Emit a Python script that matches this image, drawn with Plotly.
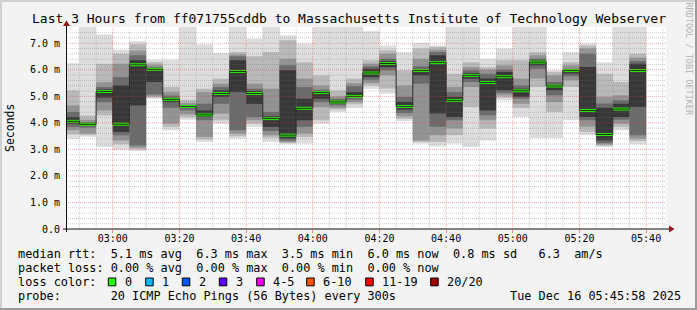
import pandas as pd
import plotly.graph_objects as go

# ---------------- canvas geometry ----------------
W, H = 697, 310
L, R, T, B = 66, 31, 27, 81          # plot area: x 66..666, y 27..229
PW, PH = W - L - R, H - T - B


def px(x):
    return (x - L) / PW


def py(y):
    return (T + PH - y) / PH


# ---------------- data (ms) ----------------
# 5-minute intervals, labelled by their end time
bar_end = pd.date_range("2025-12-16 02:50:00", "2025-12-16 05:40:00", freq="5min")

rtt_max = [6.25, 7.9, 7.33, 6.76, 7.08, 6.38, 6.38, 7.9, 6.96, 6.63,
           7.9, 7.17, 7.9, 7.30, 6.99, 7.9, 7.9, 7.9, 7.45, 6.92,
           6.67, 7.01, 6.92, 7.9, 7.9, 6.42, 6.80, 7.9, 7.9, 5.98,
           6.67, 6.99, 6.29, 7.9, 7.9]
band2_hi = [5.22, 4.28, 6.23, 6.61, 6.96, 6.29, 5.35, 4.87, 5.29, 5.67,
            6.67, 6.51, 6.67, 7.11, 6.29, 5.79, 5.22, 5.67, 6.36, 6.74,
            5.98, 6.80, 6.86, 5.85, 6.29, 6.10, 6.36, 6.36, 6.67, 5.92,
            6.29, 6.92, 5.85, 5.54, 6.61]
band3_hi = [4.66, 4.12, 5.54, 6.23, 6.73, 6.19, 5.16, 4.75, 5.16, 5.48,
            6.58, 5.48, 5.29, 6.42, 5.67, 5.41, 5.00, 5.50, 6.23, 6.61,
            5.41, 6.42, 6.76, 5.35, 6.10, 6.01, 6.17, 5.67, 6.55, 5.79,
            6.17, 6.80, 4.98, 5.04, 6.46]
band4_hi = [4.41, 4.03, 5.35, 5.73, 6.55, 6.10, 5.03, 4.68, 4.72, 5.35,
            6.51, 5.29, 4.41, 6.17, 5.35, 5.25, 4.91, 5.38, 6.13, 6.42,
            4.98, 6.13, 6.67, 5.16, 5.98, 5.85, 6.01, 5.41, 6.42, 5.54,
            6.04, 6.61, 4.73, 4.85, 6.33]
band5_hi = [4.22, 3.99, 5.26, 5.41, 6.36, 6.05, 4.94, 4.66, 4.47, 5.23,
            6.36, 5.20, 4.25, 5.98, 4.91, 5.19, 4.85, 5.16, 6.04, 6.33,
            4.79, 6.01, 6.55, 4.98, 5.88, 5.67, 5.92, 5.29, 6.36, 5.45,
            6.01, 6.11, 4.57, 4.72, 6.23]
median_rtt = [4.06, 3.95, 5.18, 3.95, 6.19, 6.02, 4.89, 4.62, 4.30, 5.11,
              5.94, 5.11, 4.16, 3.54, 4.55, 5.14, 4.79, 5.00, 5.88, 6.24,
              4.62, 5.97, 6.27, 4.85, 5.79, 5.52, 5.74, 5.21, 6.29, 5.39,
              5.97, 4.47, 3.56, 4.52, 5.97]
band5_lo = [3.97, 3.90, 4.95, 3.66, 4.66, 5.54, 4.78, 4.57, 4.22, 4.98,
            5.16, 4.72, 3.85, 3.41, 4.10, 4.91, 4.72, 4.95, 5.73, 6.10,
            4.50, 5.79, 4.35, 4.22, 5.67, 4.47, 5.23, 4.98, 6.17, 5.23,
            5.86, 4.22, 3.34, 4.22, 4.60]
band4_lo = [3.85, 3.82, 4.78, 3.53, 3.15, 5.07, 4.57, 4.47, 4.10, 4.72,
            3.72, 4.22, 3.69, 3.34, 3.85, 4.78, 4.66, 4.87, 5.63, 5.98,
            4.37, 5.48, 3.85, 4.10, 5.54, 4.28, 5.13, 4.91, 6.04, 5.04,
            5.76, 4.10, 3.24, 4.12, 3.53]
band3_lo = [3.72, 3.60, 4.47, 3.34, 3.06, 5.00, 3.97, 4.32, 3.47, 4.35,
            3.60, 4.10, 3.53, 3.28, 3.60, 4.60, 4.57, 4.78, 5.50, 5.79,
            4.25, 3.34, 3.53, 3.79, 5.35, 4.10, 5.04, 4.72, 5.67, 4.79,
            5.61, 3.85, 3.19, 3.97, 3.41]
band2_lo = [3.57, 3.54, 4.28, 3.19, 3.01, 4.95, 3.85, 4.22, 3.37, 4.10,
            3.50, 3.97, 3.44, 3.24, 3.47, 4.10, 4.50, 4.70, 5.41, 5.29,
            4.16, 3.28, 3.28, 3.53, 4.60, 3.79, 4.95, 4.57, 5.35, 4.41,
            5.35, 3.66, 3.14, 3.85, 3.32]
rtt_min = [3.40, 3.48, 3.09, 2.99, 2.94, 4.91, 3.72, 4.12, 3.28, 3.97,
           3.41, 3.84, 3.28, 3.19, 3.22, 3.97, 4.41, 4.57, 5.29, 5.10,
           4.07, 3.22, 3.11, 3.22, 3.09, 3.34, 4.85, 4.22, 3.43, 3.43,
           4.10, 3.53, 3.09, 3.72, 3.19]

y_tick_vals = [0, 1, 2, 3, 4, 5, 6, 7]
y_tick_text = ["0.0", "1.0 m", "2.0 m", "3.0 m", "4.0 m", "5.0 m", "6.0 m", "7.0 m"]

title_text = "Last 3 Hours from ff071755cddb to Massachusetts Institute of Technology Webserver"
stat_lines = [
    "median rtt:  5.1 ms avg  6.3 ms max  3.5 ms min  6.0 ms now  0.8 ms sd   6.3  am/s",
    "packet loss: 0.00 % avg  0.00 % max  0.00 % min  0.00 % now",
    "loss color:",
    "probe:       20 ICMP Echo Pings (56 Bytes) every 300s",
]
loss_labels = ["0", "1", "2", "3", "4-5", "6-10", "11-19", "20/20"]
loss_colors = ["#26ff00", "#00b8ff", "#0059ff", "#5e00ff", "#ff00ff", "#ff5500", "#ff0000", "#a00000"]
stamp_text = "Tue Dec 16 05:45:58 2025"

# ---------------- figure ----------------
step = pd.Timedelta(minutes=5)
centers = bar_end - step / 2
t_start = pd.Timestamp("2025-12-16 02:45:58")
t_end = pd.Timestamp("2025-12-16 05:45:58")
BAR_W = step.total_seconds() * 1000

fig = go.Figure()

bands = [
    (rtt_min, rtt_max, "#dddddd"),
    (band2_lo, band2_hi, "#b9b9b9"),
    (band3_lo, band3_hi, "#939393"),
    (band4_lo, band4_hi, "#6b6b6b"),
    (band5_lo, band5_hi, "#383838"),
]
for lo, hi, col in bands:
    fig.add_trace(go.Bar(
        x=centers, base=lo, y=[h - l for l, h in zip(lo, hi)], width=BAR_W,
        marker=dict(color=col, line=dict(width=0)), hoverinfo="skip", showlegend=False))

# median step line
line_x = list(bar_end - step) + [bar_end[-1]]
line_y = median_rtt + [median_rtt[-1]]
fig.add_trace(go.Scatter(x=line_x, y=line_y, mode="lines",
                         line=dict(color="#202020", width=1, shape="hv"),
                         hoverinfo="skip", showlegend=False))

# median loss-coloured band (0 loss -> green)
SW = 0.055
fig.add_trace(go.Bar(
    x=centers, base=[m - SW for m in median_rtt], y=[2 * SW] * len(median_rtt), width=BAR_W,
    marker=dict(color=loss_colors[0], line=dict(width=0)), hoverinfo="skip", showlegend=False))

shapes = []
# grid above data (rrdtool style)
minor_col = "rgba(120,120,120,0.36)"
major_col = "rgba(235,60,60,0.45)"
x_grid = pd.date_range("2025-12-16 02:50:00", "2025-12-16 05:45:00", freq="5min")
for t in x_grid:
    major = t.minute % 20 == 0
    shapes.append(dict(type="line", xref="x", yref="paper", x0=t, x1=t, y0=0, y1=1,
                       line=dict(color=major_col if major else minor_col, width=1, dash="1px,1px"),
                       layer="above"))
for i in range(1, 38):
    v = round(0.2 * i, 1)
    major = abs(v - round(v)) < 1e-9
    shapes.append(dict(type="line", xref="paper", yref="y", x0=0, x1=1, y0=v, y1=v,
                       line=dict(color=major_col if major else minor_col, width=1, dash="1px,1px"),
                       layer="above"))

# axes + arrows
axis_col = "#101010"
arrow_col = "#8b1a1a"
shapes.append(dict(type="line", xref="paper", yref="paper", x0=px(63), x1=px(670), y0=py(229), y1=py(229),
                   line=dict(color=axis_col, width=1), layer="above"))
shapes.append(dict(type="line", xref="paper", yref="paper", x0=px(66.5), x1=px(66.5), y0=py(232), y1=py(25),
                   line=dict(color=axis_col, width=1), layer="above"))
shapes.append(dict(type="path", xref="paper", yref="paper",
                   path=f"M {px(669)} {py(225.5)} L {px(674.5)} {py(229)} L {px(669)} {py(232.5)} Z",
                   fillcolor=arrow_col, line=dict(width=0), layer="above"))
shapes.append(dict(type="path", xref="paper", yref="paper",
                   path=f"M {px(63)} {py(26)} L {px(66.5)} {py(20.5)} L {px(70)} {py(26)} Z",
                   fillcolor=arrow_col, line=dict(width=0), layer="above"))

# loss colour boxes
box_left = [108.3, 145.7, 182.3, 219.3, 256.7, 306.7, 365.7, 430.7]
for bx, col in zip(box_left, loss_colors):
    shapes.append(dict(type="rect", xref="paper", yref="paper",
                       x0=px(bx), x1=px(bx + 7.5), y0=py(285.8), y1=py(278),
                       fillcolor=col, line=dict(color="#000000", width=1), layer="above"))

# canvas frame (3D shade)
shapes += [
    dict(type="line", xref="paper", yref="paper", x0=px(0), x1=px(W), y0=py(1), y1=py(1),
         line=dict(color="#d0d0d0", width=2)),
    dict(type="line", xref="paper", yref="paper", x0=px(1), x1=px(1), y0=py(0), y1=py(H),
         line=dict(color="#d0d0d0", width=2)),
    dict(type="line", xref="paper", yref="paper", x0=px(0), x1=px(W), y0=py(309), y1=py(309),
         line=dict(color="#9c9c9c", width=2)),
    dict(type="line", xref="paper", yref="paper", x0=px(696), x1=px(696), y0=py(0), y1=py(H),
         line=dict(color="#9c9c9c", width=2)),
]

MONO = "DejaVu Sans Mono"
NB = "\u00a0"
LEG_SIZE = 11.85
ann = []
ann.append(dict(text=title_text.replace(" ", NB), x=px(349), y=py(18.5), xref="paper", yref="paper",
                xanchor="center", yanchor="middle", showarrow=False,
                font=dict(family=MONO, size=13, color="#000")))
ann.append(dict(text="Seconds", x=px(10), y=py(128), xref="paper", yref="paper",
                xanchor="center", yanchor="middle", showarrow=False, textangle=-90,
                font=dict(family=MONO, size=11.5, color="#000")))
line_ys = [254.3, 268.3, 282.3, 296.3]
for txt, ly in zip(stat_lines, line_ys):
    ann.append(dict(text=txt.replace(" ", NB), x=px(16), y=py(ly), xref="paper", yref="paper",
                    xanchor="left", yanchor="middle", showarrow=False,
                    font=dict(family=MONO, size=LEG_SIZE, color="#000")))
for bx, lab in zip(box_left, loss_labels):
    ann.append(dict(text=lab, x=px(bx + 14.5), y=py(282.3), xref="paper", yref="paper",
                    xanchor="left", yanchor="middle", showarrow=False,
                    font=dict(family=MONO, size=LEG_SIZE, color="#000")))
ann.append(dict(text=stamp_text.replace(" ", NB), x=px(683), y=py(296.3), xref="paper", yref="paper",
                xanchor="right", yanchor="middle", showarrow=False,
                font=dict(family=MONO, size=LEG_SIZE, color="#000")))
ann.append(dict(text="RRDTOOL / TOBI OETIKER".replace(" ", NB), x=px(688.5), y=py(59), xref="paper", yref="paper",
                xanchor="center", yanchor="middle", showarrow=False, textangle=90,
                font=dict(family=MONO, size=8.5, color="#b4b4b4")))

x_ticks = pd.date_range("2025-12-16 03:00:00", "2025-12-16 05:40:00", freq="20min")

fig.update_layout(
    width=W, height=H, autosize=False,
    margin=dict(l=L, r=R, t=T, b=B, pad=0),
    paper_bgcolor="#f3f3f3", plot_bgcolor="#ffffff",
    barmode="overlay", showlegend=False,
    shapes=shapes, annotations=ann,
    xaxis=dict(type="date", range=[t_start, t_end], tickvals=list(x_ticks),
               ticktext=[t.strftime("%H:%M") for t in x_ticks],
               showgrid=False, zeroline=False, showline=False,
               ticks="outside", ticklen=3, tickcolor="rgba(235,60,60,0.6)",
               ticklabelstandoff=-3,
               tickfont=dict(family=MONO, size=10, color="#000")),
    yaxis=dict(range=[0, 7.614], tickvals=y_tick_vals, ticktext=y_tick_text,
               showgrid=False, zeroline=False, showline=False, ticks="",
               ticklabelstandoff=5,
               tickfont=dict(family=MONO, size=10, color="#000")),
)

fig.write_html("out.html")
